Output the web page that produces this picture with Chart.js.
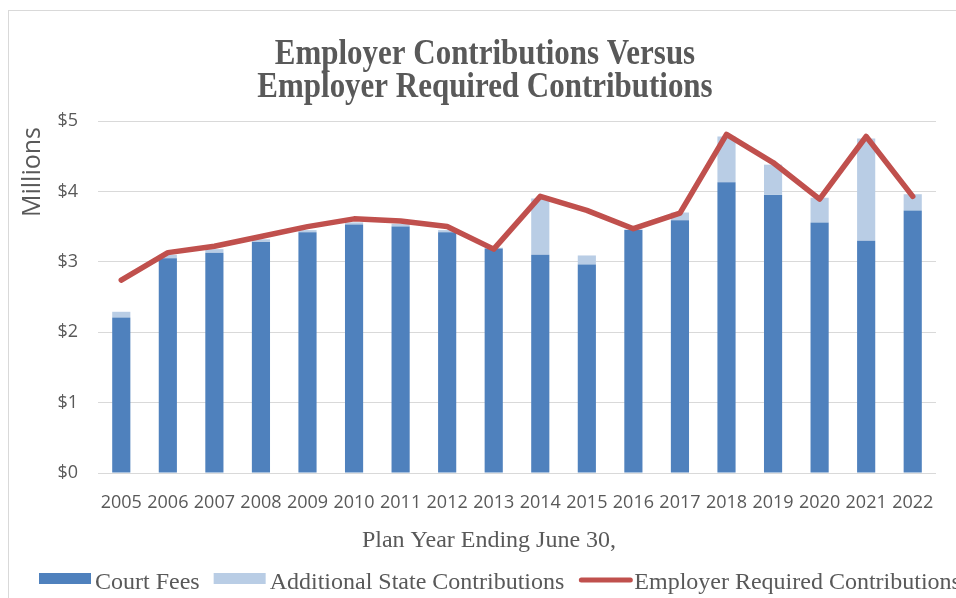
<!DOCTYPE html>
<html>
<head>
<meta charset="utf-8">
<script src="https://cdn.jsdelivr.net/npm/chart.js@4/dist/chart.umd.min.js"></script>
<style>
  html, body { margin: 0; padding: 0; background: #fff; overflow: hidden; }
  #frame {
    position: absolute; left: 8px; top: 10px;
    border-left: 1px solid #d9d9d9; border-top: 1px solid #d9d9d9;
  }
  canvas { display: block; }
</style>
</head>
<body>
<div id="frame"><canvas id="area" width="1000" height="600"></canvas></div>
<script>
// plan years and amounts, in millions of dollars
var years = ["2005", "2006", "2007", "2008", "2009", "2010", "2011", "2012", "2013",
             "2014", "2015", "2016", "2017", "2018", "2019", "2020", "2021", "2022"];
var courtFees = [2.21, 3.05, 3.13, 3.28, 3.42, 3.53, 3.50, 3.42, 3.19,
                 3.10, 2.96, 3.45, 3.59, 4.13, 3.95, 3.56, 3.30, 3.73];
var stateContrib = [0.08, 0.05, 0.05, 0.04, 0.03, 0.03, 0.04, 0.03, 0.01,
                    0.80, 0.13, 0.01, 0.11, 0.65, 0.43, 0.35, 1.45, 0.23];
var requiredContrib = [2.74, 3.13, 3.22, 3.36, 3.50, 3.61, 3.58, 3.50, 3.18,
                       3.93, 3.73, 3.47, 3.69, 4.81, 4.41, 3.89, 4.78, 3.93];
var yTicks = [0, 1, 2, 3, 4, 5];

var titleLines = ["Employer Contributions Versus", "Employer Required Contributions"];
var xTitle = "Plan Year Ending June 30,";
var yUnit = "Millions";

var grey = '#595959';

// title, axis captions and legend are drawn by hand so the serif type can be squeezed a bit
var decorations = {
  id: 'decorations',
  afterDraw: function (chart) {
    var c = chart.ctx;
    c.save();
    c.fillStyle = grey;
    c.textAlign = 'center';
    c.textBaseline = 'alphabetic';

    c.font = 'bold 36px "Liberation Serif"';
    [53, 86].forEach(function (y, i) {
      c.save();
      c.translate(476, y);
      c.scale(0.86, 1);
      c.fillText(titleLines[i], 0, 0);
      c.restore();
    });

    c.font = '24px "Liberation Serif"';
    c.fillText(xTitle, 480, 536);

    c.save();
    c.translate(24, 161);
    c.rotate(-Math.PI / 2);
    c.font = '25px "Open Sans"';
    c.textBaseline = 'middle';
    c.fillText(yUnit, 0, 0);
    c.restore();

    // legend, in dataset order
    c.textAlign = 'left';
    c.font = '24px "Liberation Serif"';
    var x = 30;
    chart.data.datasets.forEach(function (ds) {
      if (ds.type === 'line') {
        c.strokeStyle = ds.borderColor;
        c.lineWidth = 5;
        c.lineCap = 'round';
        c.beginPath();
        c.moveTo(x + 3, 569);
        c.lineTo(x + 52, 569);
        c.stroke();
      } else {
        c.fillStyle = ds.backgroundColor;
        c.fillRect(x, 562, 52, 11);
      }
      c.fillStyle = grey;
      c.fillText(ds.label, x + 56, 578);
      x += 56 + c.measureText(ds.label).width + 14;
    });
    c.restore();
  }
};

var ctx = document.getElementById('area').getContext('2d');
var myChart = new Chart(ctx, {
  type: 'bar',
  data: {
    labels: years,
    datasets: [{
      label: 'Court Fees',
      data: courtFees,
      stack: 'paid',
      backgroundColor: '#4f81bd',
      borderWidth: 0,
      order: 1
    }, {
      label: 'Additional State Contributions',
      data: stateContrib,
      stack: 'paid',
      backgroundColor: '#b9cde5',
      borderWidth: 0,
      order: 1
    }, {
      type: 'line',
      label: 'Employer Required Contributions',
      data: requiredContrib,
      stack: 'required',
      borderColor: '#c0504d',
      backgroundColor: '#c0504d',
      borderWidth: 5.5,
      borderCapStyle: 'round',
      borderJoinStyle: 'round',
      pointRadius: 0,
      tension: 0,
      order: 0
    }]
  },
  options: {
    responsive: false,
    animation: false,
    layout: { padding: { top: 110, right: 73, bottom: 98, left: 0 } },
    datasets: { bar: { categoryPercentage: 1, barPercentage: 0.39 } },
    plugins: {
      legend: { display: false },
      title: { display: false },
      tooltip: { enabled: false }
    },
    scales: {
      x: {
        stacked: true,
        grid: { display: false },
        border: { display: false },
        ticks: {
          color: grey,
          font: { family: 'Open Sans', size: 18 },
          padding: 11,
          autoSkip: false,
          maxRotation: 0
        },
        afterFit: function (scale) { scale.height = 40; }
      },
      y: {
        stacked: true,
        min: 0,
        max: 5,
        afterBuildTicks: function (scale) {
          scale.ticks = yTicks.map(function (v) { return { value: v }; });
        },
        grid: { color: '#d9d9d9', lineWidth: 1, drawTicks: false },
        border: { display: false },
        ticks: {
          color: grey,
          font: { family: 'Open Sans', size: 18 },
          padding: 20,
          callback: function (v) { return '$' + v; }
        },
        afterFit: function (scale) { scale.width = 89; }
      }
    }
  },
  plugins: [decorations]
});
</script>
</body>
</html>
